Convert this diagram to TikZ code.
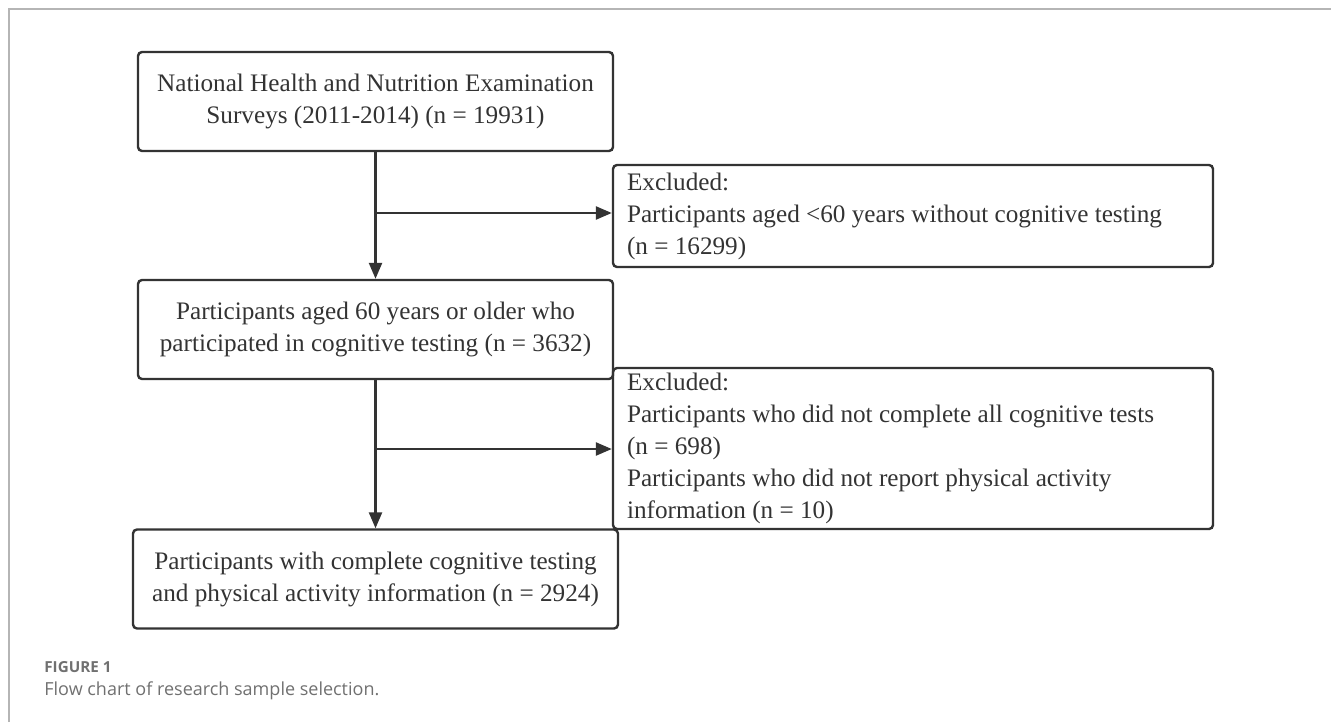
\documentclass[tikz,border=0pt]{standalone}
\usepackage{fontspec}
\setmainfont{Liberation Serif}
\newfontfamily\capfont{Open Sans}
\usetikzlibrary{arrows.meta}

\definecolor{boxline}{HTML}{333333}
\definecolor{framegray}{HTML}{B5B5B5}
\definecolor{capgray}{HTML}{707070}

\tikzset{
  flowbox/.style={draw=boxline, line width=1.2pt, rounded corners=2pt, text=boxline,
    font=\fontsize{12.6}{16}\selectfont, inner sep=0pt},
  mainbox/.style={flowbox, align=center, minimum height=49.5pt},
  exclbox/.style={flowbox, align=flush left, text width=286pt, inner xsep=7pt},
  flowarrow/.style={draw=boxline, line width=1.2pt, -{Triangle[length=8pt,width=6.5pt]}},
}

\begin{document}
\begin{tikzpicture}[x=0.5pt, y=-0.5pt]
        \useasboundingbox (0,0) rectangle (1331,722);

        % Frame (top and left rule)
        \draw[framegray, line width=1pt] (9,722) -- (9,9) -- (1331,9);

        % Main boxes
        \node[mainbox, minimum width=237.5pt] (survey) at (375.5,101.5)
            {National Health and Nutrition Examination\\Surveys (2011-2014) (n = 19931)};
        \node[mainbox, minimum width=237.5pt] (aged) at (375.5,329.5)
            {Participants aged 60 years or older who\\participated in cognitive testing (n = 3632)};
        \node[mainbox, minimum width=242.5pt] (final) at (375.5,579)
            {Participants with complete cognitive testing\\and physical activity information (n = 2924)};

        % Exclusion boxes
        \node[exclbox, minimum height=51pt] (excl1) at (913,216)
            {Excluded:\\Participants aged <60 years without cognitive testing\\(n = 16299)};
        \node[exclbox, minimum height=80.5pt] (excl2) at (913,448.5)
            {Excluded:\\Participants who did not complete all cognitive tests\\(n = 698)\\Participants who did not report physical activity\\information (n = 10)};

        % Arrows
        \coordinate (split1) at (375.5,213);
        \coordinate (split2) at (375.5,449);
        \draw[flowarrow] (survey) -- (aged);
        \draw[flowarrow] (split1) -- (excl1.west |- split1);
        \draw[flowarrow] (aged) -- (final);
        \draw[flowarrow] (split2) -- (excl2.west |- split2);

        % Caption
        \node[anchor=base west, inner sep=0pt, text=capgray, font=\capfont\bfseries\fontsize{7.6}{9}\selectfont] (capnum) at (44,672) {FIGURE 1};
        \node[anchor=base west, inner sep=0pt, text=capgray, font=\capfont\fontsize{9}{10}\selectfont] (captext) at (44,695) {Flow chart of research sample selection.};

    \end{tikzpicture}
\end{document}
